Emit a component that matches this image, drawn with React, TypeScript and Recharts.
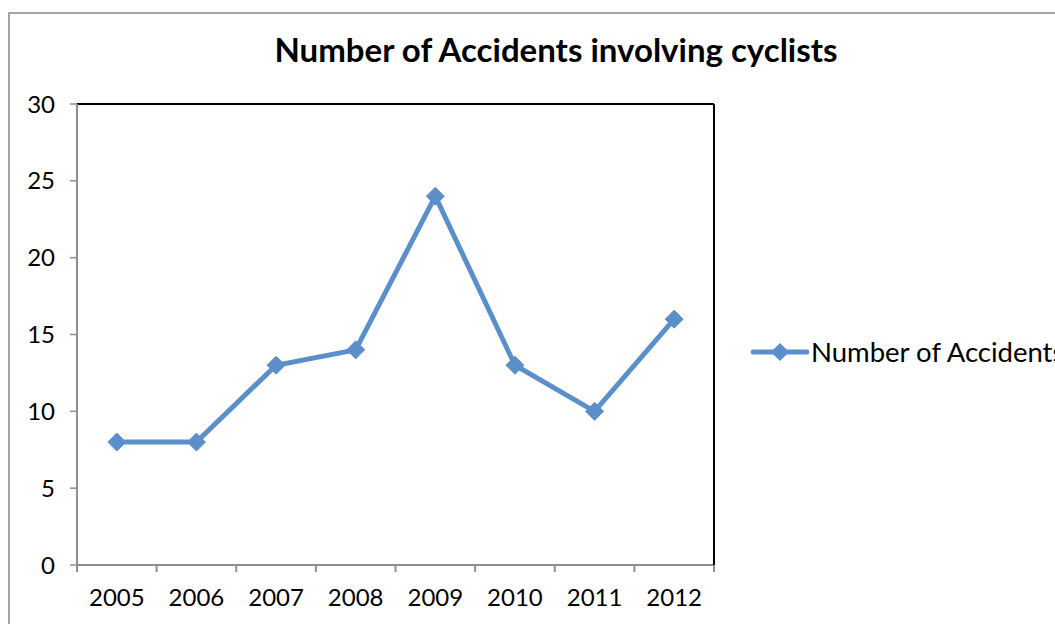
import React from "react";
import { LineChart, Line, XAxis, YAxis, CartesianGrid, Legend, ReferenceLine } from "recharts";

const years = ["2005", "2006", "2007", "2008", "2009", "2010", "2011", "2012"];
const accidents = [8, 8, 13, 14, 24, 13, 10, 16];
const yTicks = [0, 5, 10, 15, 20, 25, 30];

const data = years.map((year, i) => ({ year, accidents: accidents[i] }));

const BLUE = "#5b8fca";
const GRAY = "#8f8f8f";
const FONT = "Lato, 'Open Sans', sans-serif";
const lastYear = years[years.length - 1];

function Diamond(props: any) {
  const { cx, cy } = props;
  if (cx == null || cy == null) return null;
  const r = 9;
  return (
    <path
      d={`M${cx},${cy - r} L${cx + r},${cy} L${cx},${cy + r} L${cx - r},${cy} Z`}
      fill={BLUE}
      stroke={BLUE}
      strokeWidth={1}
      strokeLinejoin="round"
    />
  );
}

// short tick mark hanging below the plot bottom, between categories
function TickMark(props: any) {
  const { x1, y1, y2 } = props;
  const bottom = Math.max(y1, y2);
  return <line x1={x1} x2={x1} y1={bottom} y2={bottom + 7} stroke={GRAY} strokeWidth={2} />;
}

function LegendContent(props: any) {
  const { payload } = props;
  return (
    <div style={{ display: "flex", alignItems: "center", whiteSpace: "nowrap" }}>
      {(payload || []).map((entry: any) => (
        <React.Fragment key={entry.value}>
          <svg width={58} height={22}>
            <line x1={2} y1={11} x2={56} y2={11} stroke={BLUE} strokeWidth={5} strokeLinecap="round" />
            <path d="M29,2 L38,11 L29,20 L20,11 Z" fill={BLUE} />
          </svg>
          <span style={{ fontFamily: FONT, fontSize: 27.5, color: "#000", marginLeft: 2 }}>{entry.value}</span>
        </React.Fragment>
      ))}
    </div>
  );
}

export default function App() {
  return (
    <div style={{ position: "fixed", left: 0, top: 0, width: 1055, height: 624, overflow: "hidden", background: "#fff" }}>
      <div
        style={{
          position: "absolute",
          left: 8,
          top: 12,
          width: 1200,
          height: 800,
          border: "2px solid #a3a3a3",
          boxSizing: "border-box",
        }}
      />
      <div
        style={{
          position: "absolute",
          left: 0,
          top: 29,
          width: 1112,
          textAlign: "center",
          fontFamily: FONT,
          fontWeight: 700,
          fontSize: 33,
          color: "#000",
        }}
      >
        Number of Accidents involving cyclists
      </div>
      <div style={{ position: "absolute", left: 0, top: 0 }}>
        <LineChart width={1055} height={624} data={data} margin={{ top: 104, right: 341, bottom: 19, left: 0 }}>
          <CartesianGrid vertical={false} stroke={GRAY} strokeWidth={1.5} />
          <XAxis
            xAxisId="cat"
            dataKey="year"
            scale="band"
            height={40}
            axisLine={false}
            tickLine={false}
            tickMargin={18}
            tick={{ fill: "#000", fontSize: 24, fontFamily: FONT }}
            interval={0}
          />
          <YAxis
            yAxisId="left"
            width={77}
            domain={[0, 30]}
            ticks={yTicks}
            interval={0}
            axisLine={{ stroke: GRAY, strokeWidth: 2 }}
            tickLine={{ stroke: GRAY, strokeWidth: 1.5 }}
            tickSize={7}
            tickMargin={15}
            tick={{ fill: "#000", fontSize: 24, fontFamily: FONT }}
          />
          {years.map((y) => (
            <ReferenceLine key={`tick-${y}`} yAxisId="left" xAxisId="cat" x={y} position="start" stroke="none" shape={<TickMark />} />
          ))}
          <ReferenceLine yAxisId="left" xAxisId="cat" x={lastYear} position="end" stroke="none" shape={<TickMark />} />
          <ReferenceLine yAxisId="left" xAxisId="cat" y={0} stroke={GRAY} strokeWidth={2} />
          <ReferenceLine yAxisId="left" xAxisId="cat" y={30} stroke="#000" strokeWidth={2} />
          <ReferenceLine yAxisId="left" xAxisId="cat" x={lastYear} position="end" stroke="#000" strokeWidth={2} />
          <Legend
            layout="horizontal"
            align="center"
            verticalAlign="middle"
            content={<LegendContent />}
            wrapperStyle={{ left: 751, top: 335, width: "auto" }}
          />
          <Line
            xAxisId="cat"
            yAxisId="left"
            type="linear"
            dataKey="accidents"
            name="Number of Accidents"
            stroke={BLUE}
            strokeWidth={5}
            dot={<Diamond />}
            activeDot={false}
            isAnimationActive={false}
          />
        </LineChart>
      </div>
    </div>
  );
}
